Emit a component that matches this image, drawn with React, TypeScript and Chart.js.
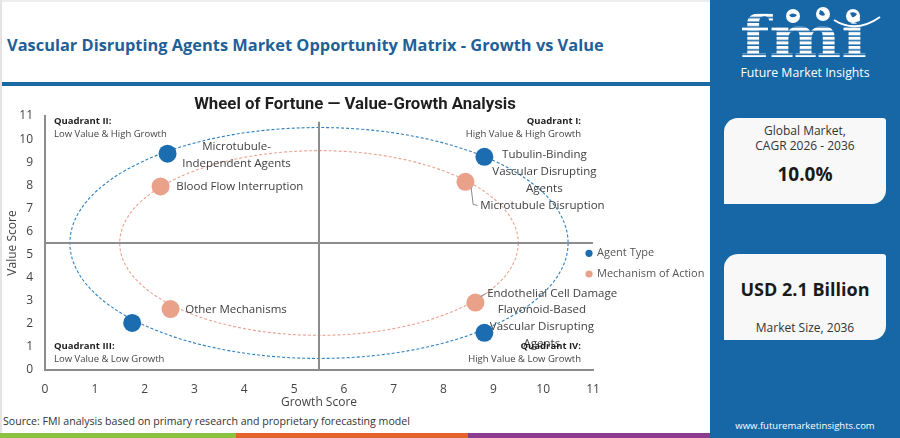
import React, { useEffect, useRef } from "react";
import { Chart, registerables } from "chart.js";

Chart.register(...registerables);

// ---------- data ----------
const axisMin = 0;
const axisMax = 11;
const axisStep = 1;
const seriesNames = ["Agent Type", "Mechanism of Action"];

const agentLabels = [
  "Microtubule-\nIndependent Agents",
  "Tubulin-Binding\nVascular Disrupting\nAgents",
  "Flavonoid-Based\nVascular Disrupting\nAgents",
  "",
];
const agentGrowth = [2.46, 8.82, 8.82, 1.75];
const agentValue = [9.37, 9.23, 1.61, 2.04];

const mechLabels = [
  "Blood Flow Interruption",
  "Microtubule Disruption",
  "Endothelial Cell Damage",
  "Other Mechanisms",
];
const mechGrowth = [2.32, 8.44, 8.64, 2.52];
const mechValue = [7.95, 8.15, 2.92, 2.64];

const quadrantSplit = 5.5;
const quadrantLineTop = 10.75;
const ringCenter = 5.5;
const ringRadii = [5, 4];

const quadrantTitles = ["Quadrant I:", "Quadrant II:", "Quadrant III:", "Quadrant IV:"];
const quadrantSubtitles = [
  "High Value & High Growth",
  "Low Value & High Growth",
  "Low Value & Low Growth",
  "High Value & Low Growth",
];

const chartTitle = "Wheel of Fortune \u2014 Value-Growth Analysis";
const pageTitle = "Vascular Disrupting Agents Market Opportunity Matrix - Growth vs Value";
const sourceText = "Source: FMI analysis based on primary research and proprietary forecasting model";

// ---------- styles ----------
const BLUE = "#1c6db0";
const ORANGE = "#e9a18a";
const RING_COLORS = ["#2f80bf", "#eaa390"];
const GRID_GRAY = "#8c8c8c";
const FONT = "'Open Sans', sans-serif";

type LabelLayout = {
  dx: number;
  dy: number;
  align: CanvasTextAlign;
  leader?: number[][];
} | null;

const labelLayouts: LabelLayout[][] = [
  [
    { dx: 69, dy: -7, align: "center" },
    { dx: 60, dy: -2, align: "center" },
    { dx: 57.5, dy: -22.7, align: "center" },
    null,
  ],
  [
    { dx: 15.7, dy: 0.3, align: "left" },
    { dx: 14.7, dy: 24, align: "left", leader: [[5.7, 6], [7.7, 22.6], [12, 23.6]] },
    { dx: 11.7, dy: -9, align: "left", leader: [[5, -6], [10.5, -9]] },
    { dx: 14.7, dy: 0.3, align: "left" },
  ],
];
const LABEL_LINE_H = 16.7;

const overlayPlugin = {
  id: "overlay",
  beforeDatasetsDraw(chart: any) {
    const { ctx, scales } = chart;
    const x = scales.x;
    const y = scales.y;
    ctx.save();
    // rings
    const cx = x.getPixelForValue(ringCenter);
    const cy = y.getPixelForValue(ringCenter);
    ringRadii.forEach((r: number, i: number) => {
      const rx = x.getPixelForValue(ringCenter + r) - cx;
      const ry = cy - y.getPixelForValue(ringCenter + r);
      ctx.beginPath();
      ctx.setLineDash([3, 2]);
      ctx.lineWidth = 1.1;
      ctx.strokeStyle = RING_COLORS[i];
      ctx.ellipse(cx, cy, rx, ry, 0, 0, Math.PI * 2);
      ctx.stroke();
    });
    ctx.setLineDash([]);
    // quadrant lines
    ctx.strokeStyle = GRID_GRAY;
    ctx.lineWidth = 2;
    const qx = x.getPixelForValue(quadrantSplit);
    const qy = y.getPixelForValue(quadrantSplit);
    ctx.beginPath();
    ctx.moveTo(qx, y.getPixelForValue(axisMin));
    ctx.lineTo(qx, y.getPixelForValue(quadrantLineTop));
    ctx.stroke();
    ctx.beginPath();
    ctx.moveTo(x.getPixelForValue(axisMin), qy);
    ctx.lineTo(x.getPixelForValue(axisMax), qy);
    ctx.stroke();
    ctx.restore();
  },
  afterDatasetsDraw(chart: any) {
    const { ctx, chartArea } = chart;
    ctx.save();
    ctx.textBaseline = "middle";
    // chart title, centred on the whole canvas
    ctx.fillStyle = "#1f1f1f";
    ctx.font = `bold 16.8px Roboto, sans-serif`;
    ctx.textAlign = "center";
    ctx.fillText(chartTitle, chart.width / 2, 16.5);
    // point labels
    const labelSets = [agentLabels, mechLabels];
    labelSets.forEach((labels, di) => {
      const meta = chart.getDatasetMeta(di);
      labels.forEach((txt, i) => {
        const lay = labelLayouts[di][i];
        if (!txt || !lay) return;
        const el = meta.data[i];
        const px = el.x;
        const py = el.y;
        if (lay.leader) {
          ctx.strokeStyle = "#8a8a8a";
          ctx.lineWidth = 1;
          ctx.beginPath();
          lay.leader.forEach((p, k) => {
            if (k === 0) ctx.moveTo(px + p[0], py + p[1]);
            else ctx.lineTo(px + p[0], py + p[1]);
          });
          ctx.stroke();
        }
        ctx.fillStyle = "#404040";
        ctx.font = `11.5px ${FONT}`;
        ctx.textAlign = lay.align;
        txt.split("\n").forEach((line, k) => {
          ctx.fillText(line, px + lay.dx, py + lay.dy + k * LABEL_LINE_H);
        });
      });
    });
    // quadrant captions
    const left = chartArea.left + 9;
    const right = chartArea.right - 12;
    const topA = chartArea.top + 5;
    const topB = chartArea.top + 18;
    const botA = chartArea.bottom - 24;
    const botB = chartArea.bottom - 11;
    const spots: [number, number, number, CanvasTextAlign][] = [
      [right, topA, topB, "right"],
      [left, topA, topB, "left"],
      [left, botA, botB, "left"],
      [right, botA, botB, "right"],
    ];
    spots.forEach(([qx, ya, yb, al], i) => {
      ctx.textAlign = al;
      ctx.fillStyle = "#1e1e1e";
      ctx.font = `bold 9.5px ${FONT}`;
      ctx.fillText(quadrantTitles[i], qx, ya);
      ctx.fillStyle = "#444";
      ctx.font = `9.5px ${FONT}`;
      ctx.fillText(quadrantSubtitles[i], qx, yb);
    });
    // legend
    const lx = chartArea.right - 4;
    const ly = [chartArea.top + 137.3, chartArea.top + 158];
    chart.data.datasets.forEach((ds: any, i: number) => {
      ctx.beginPath();
      ctx.fillStyle = ds.backgroundColor;
      ctx.arc(lx, ly[i], 3.6, 0, Math.PI * 2);
      ctx.fill();
      ctx.fillStyle = "#555";
      ctx.font = `11px ${FONT}`;
      ctx.textAlign = "left";
      ctx.fillText(ds.label, lx + 8, ly[i]);
    });
    ctx.restore();
  },
};

function ScatterChart() {
  const ref = useRef<HTMLCanvasElement | null>(null);
  useEffect(() => {
    if (!ref.current) return;
    Chart.defaults.font.family = FONT;
    const chart = new Chart(ref.current, {
      type: "scatter",
      data: {
        datasets: [
          {
            label: seriesNames[0],
            data: agentGrowth.map((g, i) => ({ x: g, y: agentValue[i] })),
            backgroundColor: BLUE,
            borderWidth: 0,
            pointRadius: 9,
            pointHoverRadius: 9,
          },
          {
            label: seriesNames[1],
            data: mechGrowth.map((g, i) => ({ x: g, y: mechValue[i] })),
            backgroundColor: ORANGE,
            borderWidth: 0,
            pointRadius: 9,
            pointHoverRadius: 9,
          },
        ],
      },
      options: {
        responsive: true,
        maintainAspectRatio: false,
        animation: false,
        events: [],
        layout: { padding: { left: 0, right: 117, top: 28, bottom: 0 } },
        plugins: {
          legend: { display: false },
          tooltip: { enabled: false },
          title: { display: false },
        },
        scales: {
          x: {
            type: "linear",
            min: axisMin,
            max: axisMax,
            ticks: { stepSize: axisStep, padding: 12, color: "#444", font: { size: 12 } },
            grid: { display: false, drawTicks: false },
            border: { display: true, color: GRID_GRAY, width: 2 },
            title: {
              display: true,
              text: "Growth Score",
              color: "#444",
              font: { size: 12 },
              padding: { top: 0, bottom: 3 },
            },
            afterFit: (s: any) => {
              s.height = 43;
            },
          },
          y: {
            type: "linear",
            min: axisMin,
            max: axisMax,
            ticks: { stepSize: axisStep, padding: 12, color: "#444", font: { size: 12 } },
            grid: { display: false, drawTicks: false },
            border: { display: true, color: GRID_GRAY, width: 2 },
            title: {
              display: true,
              text: "Value Score",
              color: "#444",
              font: { size: 12 },
              padding: { top: 5, bottom: 0 },
            },
            afterFit: (s: any) => {
              s.width = 45;
            },
          },
        },
      } as any,
      plugins: [overlayPlugin as any],
    });
    return () => chart.destroy();
  }, []);
  return <canvas ref={ref} />;
}

function abs(l: number, t: number, w: number, h: number, extra: React.CSSProperties = {}): React.CSSProperties {
  return { position: "absolute", left: l, top: t, width: w, height: h, ...extra };
}

export default function App() {
  return (
    <div style={abs(0, 0, 900, 438, { overflow: "hidden", background: "#fff", fontFamily: FONT })}>
      <div style={abs(0, 0, 710, 2, { background: "#eeeeee" })} />
      <div style={abs(0, 0, 2, 438, { background: "#e4e4e4" })} />
      <div
        style={abs(7, 34, 700, 22, {
          lineHeight: "22px",
          fontSize: 16.4,
          fontWeight: 700,
          color: "#1e6097",
          whiteSpace: "nowrap",
        })}
      >
        {pageTitle}
      </div>
      <div style={abs(2, 82, 708, 4, { background: "#1b6aa5" })} />
      <div style={abs(0, 88, 710, 325)}>
        <ScatterChart />
      </div>
      <div
        style={abs(3, 413, 600, 16, { lineHeight: "16px", fontSize: 10.6, color: "#333", whiteSpace: "nowrap" })}
      >
        {sourceText}
      </div>
      <div style={abs(0, 433, 236, 5, { background: "#8bc240" })} />
      <div style={abs(236, 433, 232, 5, { background: "#e5622d" })} />
      <div style={abs(468, 433, 242, 5, { background: "#8c3b8f" })} />

      {/* right panel */}
      <div style={abs(710, 0, 190, 438, { background: "#1767a7" })}>
        <svg style={abs(0, 0, 190, 64)} viewBox="0 0 190 64">
          <defs>
            <pattern id="fmiStripes" patternUnits="userSpaceOnUse" width="6" height="4.6">
              <rect x="0" y="0" width="6" height="3.1" fill="#ffffff" />
            </pattern>
          </defs>
          <text
            x="30"
            y="57"
            fontFamily="'DejaVu Serif', serif"
            fontWeight="700"
            fontSize="58"
            textLength="127"
            lengthAdjust="spacingAndGlyphs"
            fill="url(#fmiStripes)"
          >
            fmi
          </text>
          <circle cx="83" cy="16" r="7" fill="#fff" />
          <circle cx="113" cy="14" r="7" fill="#fff" />
          <circle cx="143" cy="16" r="7" fill="#fff" />
          <path d="M79 15 q4 -3 8 0 q-2 3 -6 2 z" fill="#1767a7" />
          <path d="M110 10 q4 1 5 5 q-3 2 -6 -1 z" fill="#1767a7" />
          <path d="M140 13 q4 -2 7 1 q-2 4 -5 3 z" fill="#1767a7" />
          <path d="M124 20 Q146 34 170 17" stroke="#fff" strokeWidth="2" fill="none" />
        </svg>
        <div
          style={abs(0, 65, 190, 16, {
            lineHeight: "16px",
            fontSize: 12.3,
            color: "#fff",
            textAlign: "center",
            whiteSpace: "nowrap",
          })}
        >
          Future Market Insights
        </div>

        <div
          style={abs(14, 118, 162, 86, {
            background: "#f8f8f8",
            borderRadius: "14px 3px 14px 0px",
            textAlign: "center",
            color: "#333",
          })}
        >
          <div style={abs(0, 5, 162, 16, { lineHeight: "16px", fontSize: 12 })}>Global Market,</div>
          <div style={abs(0, 20, 162, 16, { lineHeight: "16px", fontSize: 12 })}>CAGR 2026 - 2036</div>
          <div style={abs(0, 43, 162, 26, { lineHeight: "26px", fontSize: 19, fontWeight: 700, color: "#1a1a1a" })}>
            10.0%
          </div>
        </div>

        <div
          style={abs(14, 254, 162, 86, {
            background: "#f8f8f8",
            borderRadius: "14px 3px 14px 0px",
            textAlign: "center",
            color: "#333",
          })}
        >
          <div style={abs(0, 22, 162, 26, { lineHeight: "26px", fontSize: 18, fontWeight: 700, color: "#1a1a1a" })}>
            USD 2.1 Billion
          </div>
          <div style={abs(0, 66, 162, 16, { lineHeight: "16px", fontSize: 12 })}>Market Size, 2036</div>
        </div>

        <div
          style={abs(0, 419, 190, 14, {
            lineHeight: "14px",
            fontSize: 9.5,
            color: "#fff",
            textAlign: "center",
            whiteSpace: "nowrap",
          })}
        >
          www.futuremarketinsights.com
        </div>
      </div>
    </div>
  );
}
